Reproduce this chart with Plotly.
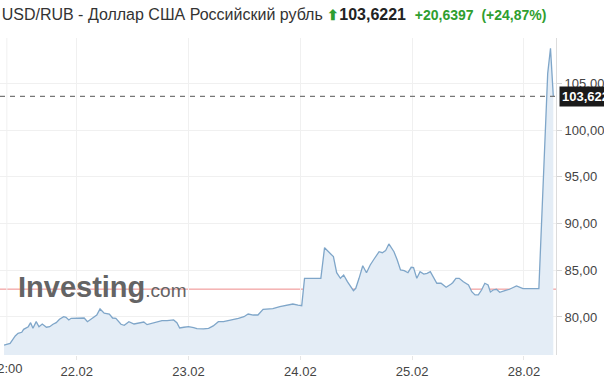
import plotly.graph_objects as go

# Trading-hour index (0 = 22.02 00:00, weekend removed) and USD/RUB rate
hours = [-15.6, -14.3, -13.2, -12.6, -11.8, -11.4, -10.4, -9.9, -9.4, -8.7,
         -8.1, -7.4, -6.5, -5.8, -5.1, -4.4, -3.7, -2.8, -2.3, -1.7,
         -1.2, -0.1, 1.6, 2.3, 3.4, 4.3, 5.0, 5.9, 7.0, 7.7,
         8.4, 9.5, 10.2, 11.2, 12.3, 13.4, 14.4, 15.1, 16.2, 17.3,
         18.3, 19.4, 20.8, 21.5, 22.1, 23.0, 24.0, 25.1, 25.8, 27.2,
         28.3, 29.3, 30.4, 31.5, 32.5, 33.6, 34.7, 35.9, 36.8, 37.9,
         38.9, 40.0, 41.1, 42.1, 43.6, 44.6, 45.7, 46.4, 47.5, 48.3,
         48.9, 52.4, 53.2, 55.1, 55.8, 56.6, 57.3, 58.1, 59.4, 59.9,
         60.6, 61.4, 62.2, 63.0, 63.8, 64.9, 65.6, 66.3, 67.0, 68.1,
         68.8, 69.5, 70.3, 71.1, 71.8, 72.3, 73.0, 73.7, 74.5, 75.2,
         75.9, 76.6, 77.3, 78.2, 79.3, 80.3, 80.7, 81.4, 82.1, 83.0,
         84.1, 84.8, 85.5, 86.2, 86.9, 87.6, 88.3, 88.8, 89.4, 90.1,
         90.8, 91.9, 92.9, 94.4, 95.1, 95.8, 97.2, 99.2, 101.1, 101.7,
         102.3]
rates = [77.00, 77.18, 77.97, 78.25, 78.36, 78.68, 78.96, 79.39, 78.79, 79.50,
         78.96, 79.25, 78.90, 78.96, 79.22, 79.39, 79.75, 80.03, 79.97, 79.68,
         79.86, 79.86, 79.89, 79.50, 79.86, 80.21, 80.86, 80.40, 80.32, 79.89,
         79.86, 79.22, 79.11, 79.50, 79.25, 79.33, 79.46, 79.18, 79.33, 79.50,
         79.60, 79.60, 79.68, 79.39, 78.82, 78.90, 78.96, 78.85, 78.75, 78.72,
         78.79, 79.04, 79.50, 79.50, 79.60, 79.68, 79.86, 80.03, 80.32, 80.21,
         80.21, 80.82, 80.89, 80.89, 81.10, 81.18, 81.28, 81.39, 81.28, 81.21,
         84.14, 84.14, 87.42, 86.46, 84.74, 84.14, 84.50, 83.78, 82.82, 83.07,
         84.14, 85.49, 84.74, 85.57, 86.18, 86.99, 86.88, 87.10, 87.82, 86.99,
         86.10, 85.03, 84.96, 84.74, 85.32, 85.28, 84.14, 84.85, 84.60, 84.68,
         84.85, 84.25, 83.61, 83.61, 83.18, 83.50, 83.67, 84.14, 84.14, 83.78,
         83.43, 82.71, 82.36, 82.36, 82.89, 83.61, 83.43, 82.68, 82.89, 82.97,
         82.64, 82.82, 82.97, 83.32, 83.18, 83.03, 83.03, 83.03, 106.09, 108.77,
         103.62]

x_tickvals = [0, 24, 48, 72, 96]
x_ticktext = ["22.02", "23.02", "24.02", "25.02", "28.02"]
first_tick_val = -15
first_tick_text = "12:00"
y_tickvals = [80, 85, 90, 95, 100, 105]

last_price = 103.6221
prev_close = 82.9824
change = "+20,6397"
change_pct = "(+24,87%)"
title_name = "USD/RUB - Доллар США Российский рубль"

FONT = "Arial, 'Liberation Sans', sans-serif"
GREEN = "#2f9e2f"
TICKCOL = "#444"

fig = go.Figure()
fig.add_trace(go.Scatter(
    x=hours, y=rates, mode="lines",
    line=dict(color="#7fa6c9", width=1.3),
    fill="tozeroy", fillcolor="#e4edf6",
    hoverinfo="skip", showlegend=False,
))

# previous close (red) and last price (dashed)
fig.add_shape(type="line", xref="paper", x0=0, x1=1, yref="y",
              y0=prev_close, y1=prev_close,
              line=dict(color="#ee8a8a", width=1), layer="below")
fig.add_shape(type="line", xref="paper", x0=0, x1=1, yref="y",
              y0=last_price, y1=last_price,
              line=dict(color="#777777", width=1.2, dash="5px,5px"))

# last price tag
fig.add_annotation(xref="paper", x=1, xanchor="left", yref="y", y=last_price,
                   text="<b>103,622</b>", showarrow=False,
                   font=dict(family=FONT, size=13, color="white"),
                   bgcolor="#1a1a1a", borderpad=2, xshift=3)

# first (partly clipped) x tick label
fig.add_vline(x=first_tick_val, line=dict(color="#f0f0f0", width=1), layer="below")
fig.add_annotation(x=first_tick_val, xref="x", y=0, yref="paper", yanchor="top",
                   xanchor="center", yshift=-4, text=first_tick_text,
                   showarrow=False, font=dict(family=FONT, size=13, color=TICKCOL))

# watermark
fig.add_annotation(xref="paper", x=0.028, xanchor="left",
                   yref="paper", y=0.215, yanchor="middle",
                   text="<b>Investing</b><span style='font-size:19px'>.com</span>",
                   showarrow=False,
                   font=dict(family=FONT, size=29, color="#646464"))

title = (f"<span style='color:#333;font-size:16px'>{title_name}</span> "
         f"<span style='color:{GREEN};font-size:14px'><b>⬆</b></span>"
         f"<b>103,6221</b>  "
         f"<span style='color:{GREEN};font-size:14px'><b>{change}</b>  <b>{change_pct}</b></span>")

fig.update_layout(
    width=604, height=380,
    margin=dict(l=0, r=44, t=38, b=25),
    paper_bgcolor="white", plot_bgcolor="white",
    separators=", ",
    font=dict(family=FONT, size=12, color="#333"),
    title=dict(text=title, x=0.003, xanchor="left", xref="paper",
               y=1 - 14 / 380, yanchor="middle", yref="container",
               font=dict(family=FONT, size=16, color="#222")),
    xaxis=dict(range=[-16.47, 102.88], tickvals=x_tickvals, ticktext=x_ticktext,
               showgrid=True, gridcolor="#f0f0f0", gridwidth=1,
               ticks="outside", ticklen=4, tickcolor="#e6e6e6",
               showline=False, zeroline=False,
               tickfont=dict(size=13, color=TICKCOL)),
    yaxis=dict(range=[75.93, 109.87], side="right", tickvals=y_tickvals,
               tickformat=".2f",
               showgrid=True, gridcolor="#f0f0f0", gridwidth=1,
               ticks="outside", ticklen=5, tickcolor="#d6d6d6",
               showline=True, linecolor="#dcdcdc", linewidth=1,
               zeroline=False, tickfont=dict(size=13, color=TICKCOL)),
)

fig.write_html("out.html")
